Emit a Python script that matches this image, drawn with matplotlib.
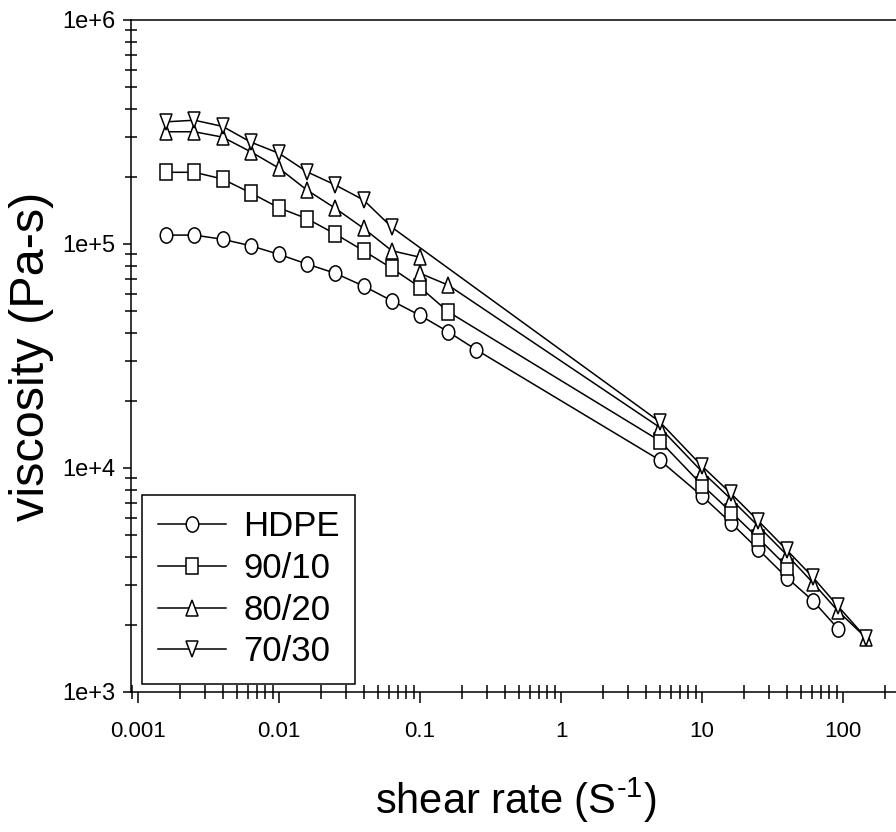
import numpy as np
import matplotlib
matplotlib.use("Agg")
import matplotlib.pyplot as plt
from matplotlib.markers import MarkerStyle
from matplotlib.transforms import Affine2D
from matplotlib.ticker import LogLocator, FuncFormatter, NullFormatter

# ── Data ─────────────────────────────────────────────────────────────────────
rate_hdpe = [0.00158, 0.00251, 0.00398, 0.00631, 0.01, 0.0158, 0.0251, 0.0398,
             0.0631, 0.1, 0.158, 0.251, 5, 10, 16, 25, 40, 61, 92]
visc_hdpe = [109600, 109600, 105000, 98200, 89900, 81400, 74000, 64900,
             55800, 48000, 40600, 33700, 10860, 7500, 5700, 4340, 3240, 2560, 1920]

rate_9010 = [0.00158, 0.00251, 0.00398, 0.00631, 0.01, 0.0158, 0.0251, 0.0398,
             0.0631, 0.1, 0.158, 5, 10, 16, 25, 40]
visc_9010 = [209000, 209000, 195000, 169000, 145000, 129700, 110800, 93300,
             77900, 64100, 49900, 13240, 8400, 6380, 4870, 3630]

rate_8020 = [0.00158, 0.00251, 0.00398, 0.00631, 0.01, 0.0158, 0.0251, 0.0398,
             0.0631, 0.1, 0.1, 0.158, 5, 10, 16, 25, 40, 61, 92, 145]
visc_8020 = [317000, 317000, 300000, 258000, 218000, 174000, 144300, 117500,
             93300, 87300, 74000, 65600, 15200, 9630, 7280, 5510, 4090, 3080, 2300, 1750]

rate_7030 = [0.00158, 0.00251, 0.00398, 0.00631, 0.01, 0.0158, 0.0251, 0.0398,
             0.0631, 5, 10, 16, 25, 40, 61, 92, 145]
visc_7030 = [351000, 357000, 335000, 285000, 254000, 210000, 183400, 157200,
             118800, 16100, 10200, 7710, 5820, 4300, 3260, 2420, 1750]

series = [
    ("HDPE", rate_hdpe, visc_hdpe, "o"),
    ("90/10", rate_9010, visc_9010, "s"),
    ("80/20", rate_8020, visc_8020, "^"),
    ("70/30", rate_7030, visc_7030, "v"),
]

# ── Styling ──────────────────────────────────────────────────────────────────
plt.rcParams.update({
    "font.family": ["Liberation Sans", "DejaVu Sans"],
    "mathtext.fontset": "custom",
    "mathtext.rm": "Liberation Sans",
    "mathtext.default": "regular",
})

fig = plt.figure(figsize=(8.96, 8.32), dpi=100)
ax = fig.add_axes([131 / 896, 140 / 832, (900 - 131) / 896, 672 / 832])

squash = Affine2D().scale(0.82, 1.0)
for label, x, y, mk in series:
    ax.plot(x, y, color="black", linewidth=1.1,
            marker=MarkerStyle(mk, transform=squash), markersize=11,
            markerfacecolor="white", markeredgecolor="black",
            markeredgewidth=1.1, label=label, clip_on=False)

ax.set_xscale("log")
ax.set_yscale("log")
ax.set_xlim(10 ** (-3 - 7 / 141), 10 ** (-3 + (900 - 138) / 141))
ax.set_ylim(1e3, 1e6)

ax.xaxis.set_major_locator(LogLocator(base=10, numticks=20))
ax.xaxis.set_minor_locator(LogLocator(base=10, subs=np.arange(2, 10), numticks=20))
ax.yaxis.set_major_locator(LogLocator(base=10, numticks=20))
ax.yaxis.set_minor_locator(LogLocator(base=10, subs=np.arange(2, 10), numticks=20))
ax.xaxis.set_major_formatter(FuncFormatter(lambda v, p: f"{v:g}"))
ax.yaxis.set_major_formatter(FuncFormatter(lambda v, p: f"1e+{int(round(np.log10(v)))}"))
ax.xaxis.set_minor_formatter(NullFormatter())
ax.yaxis.set_minor_formatter(NullFormatter())

ax.tick_params(axis="x", which="major", direction="out", length=8, width=1.1,
               labelsize=16, pad=13)
ax.tick_params(axis="x", which="minor", direction="inout", length=10, width=1.1)
ax.tick_params(axis="y", which="major", direction="out", length=6, width=1.1,
               labelsize=17, pad=5)
ax.tick_params(axis="y", which="minor", direction="inout", length=8, width=1.1)

for side in ["left", "bottom", "top"]:
    ax.spines[side].set_linewidth(1.1)
ax.spines["right"].set_visible(False)

ax.set_xlabel(r"shear rate (S$^{\text{-}1}$)", fontsize=30, labelpad=24)
ax.set_ylabel("viscosity (Pa-s)", fontsize=35, labelpad=6)

leg = ax.legend(loc="lower left", bbox_to_anchor=(11 / 769, 8 / 672),
                borderaxespad=0, fontsize=25, frameon=True, fancybox=False,
                edgecolor="black", framealpha=1, handlelength=1.96,
                handletextpad=0.5, borderpad=0.45, labelspacing=0.25)
leg.get_frame().set_linewidth(1.1)

fig.savefig("out.png", dpi=100, facecolor="white")
